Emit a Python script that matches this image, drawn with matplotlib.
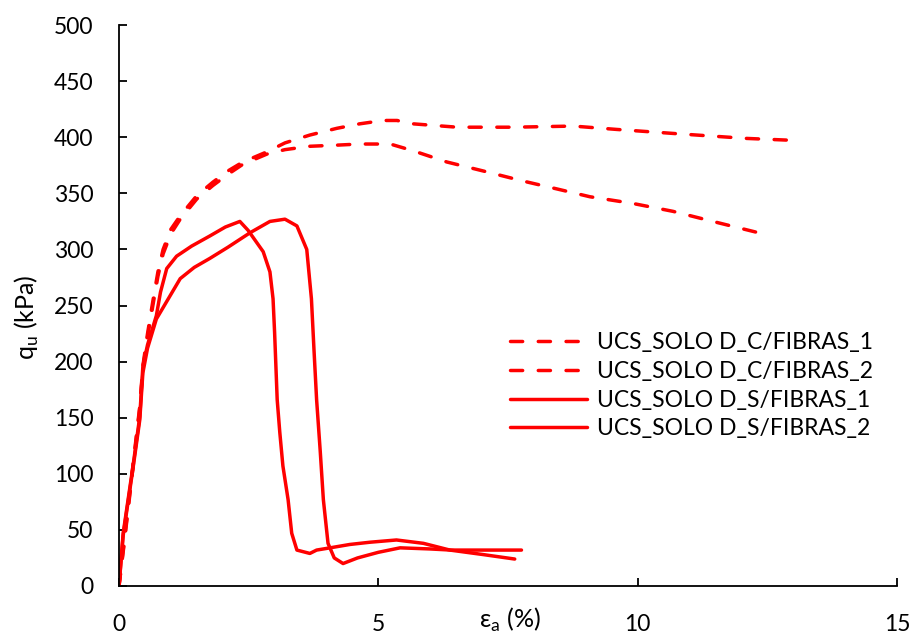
import matplotlib
matplotlib.use("Agg")
import matplotlib.pyplot as plt

plt.rcParams['font.family'] = ['Lato', 'DejaVu Sans']
plt.rcParams['mathtext.fontset'] = 'custom'
plt.rcParams['mathtext.rm'] = 'Lato'

# Data (strain %, qu kPa)
c1_x = [0, 0.1, 0.25, 0.4, 0.46, 0.55, 0.66, 0.75, 0.85, 1.0, 1.18, 1.5, 1.81, 2.1, 2.39, 2.85,
        3.2, 3.68, 4.2, 4.64, 5.09, 5.36, 5.67, 6.52, 7.6, 8.76, 9.6, 10.82, 12.1, 13.14]
c1_q = [0, 40, 100, 160, 196, 225, 256, 280, 300, 318, 330, 348, 360, 370, 378, 387,
        395, 402, 408, 412, 415, 415, 412, 409, 409, 410, 407, 403, 399, 397]

c2_x = [0, 0.1, 0.25, 0.4, 0.46, 0.55, 0.66, 0.75, 0.85, 1.0, 1.18, 1.5, 1.81, 2.1, 2.39, 2.85,
        3.2, 3.68, 4.2, 4.64, 5.23, 5.67, 6.32, 7.02, 7.79, 8.44, 9.08, 9.91, 10.68, 11.45, 12.41]
c2_q = [0, 38, 98, 158, 194, 222, 252, 276, 296, 314, 327, 345, 357, 367, 376, 385,
        389, 392, 393, 394, 394, 388, 378, 370, 361, 354, 347, 341, 334, 325, 314]

s1_x = [0, 0.08, 0.27, 0.40, 0.46, 0.55, 0.72, 0.8, 0.92, 1.11, 1.4, 1.75, 2.05, 2.33, 2.49, 2.78,
        2.91, 2.97, 3.0, 3.05, 3.1, 3.16, 3.26, 3.33, 3.43, 3.68, 3.81, 4.07, 4.45, 4.84, 5.35,
        5.87, 6.38, 7.02, 7.63]
s1_q = [0, 47, 107, 151, 196, 215, 241, 262, 283, 294, 303, 312, 320, 325, 317, 298,
        280, 256, 226, 166, 137, 107, 77, 47, 32, 29, 32, 34, 37, 39, 41,
        38, 32, 28, 24]

s2_x = [0, 0.08, 0.27, 0.40, 0.46, 0.55, 0.72, 0.95, 1.18, 1.45, 1.75, 2.1, 2.53, 2.91, 3.2,
        3.43, 3.62, 3.71, 3.76, 3.81, 3.88, 3.94, 4.03, 4.15, 4.32, 4.6, 5.0, 5.42, 6.0, 6.4,
        7.0, 7.76]
s2_q = [0, 45, 105, 148, 190, 212, 238, 256, 274, 284, 292, 302, 315, 325, 327,
        321, 300, 256, 210, 166, 120, 77, 38, 25, 20, 25, 30, 34, 33, 32,
        32, 32]

labels = ['UCS_SOLO D_C/FIBRAS_1', 'UCS_SOLO D_C/FIBRAS_2',
          'UCS_SOLO D_S/FIBRAS_1', 'UCS_SOLO D_S/FIBRAS_2']
x_ticks = [0, 5, 10, 15]
y_ticks = [0, 50, 100, 150, 200, 250, 300, 350, 400, 450, 500]

red = '#FF0000'
fs = 16.5
fig = plt.figure(figsize=(9.12, 6.33), dpi=100)
ax = fig.add_axes([0.1305, 0.0743, 0.853, 0.886])

lw = 2.5
dash = (3.5, 4.5)
ax.plot(c1_x, c1_q, color=red, lw=lw, dashes=dash, dash_capstyle='round', label=labels[0])
ax.plot(c2_x, c2_q, color=red, lw=lw, dashes=dash, dash_capstyle='round', label=labels[1])
ax.plot(s1_x, s1_q, color=red, lw=lw, solid_capstyle='round', label=labels[2])
ax.plot(s2_x, s2_q, color=red, lw=lw, solid_capstyle='round', label=labels[3])

ax.set_xlim(0, 15)
ax.set_ylim(0, 500)
ax.set_xticks(x_ticks)
ax.set_yticks(y_ticks)
for s in ['top', 'right']:
    ax.spines[s].set_visible(False)
for s in ['left', 'bottom']:
    ax.spines[s].set_linewidth(1.3)
ax.tick_params(axis='both', direction='in', length=6, width=1.3, labelsize=fs)
ax.tick_params(axis='x', pad=20)
ax.tick_params(axis='y', pad=18.5)

fig.text(510 / 912, 1 - 620 / 633, r'ε$_\mathregular{a}$ (%)', ha='center', va='center', fontsize=18)
fig.text(27 / 912, 1 - 317 / 633, r'q$_\mathregular{u}$ (kPa)', ha='center', va='center',
         rotation=90, fontsize=18)

leg = ax.legend(loc='center left', bbox_to_anchor=(0.503, 0.357), frameon=False, fontsize=fs,
                handlelength=3.36, handletextpad=0.44, borderpad=0, borderaxespad=0,
                labelspacing=0.33)

fig.savefig('out.png', dpi=100)
